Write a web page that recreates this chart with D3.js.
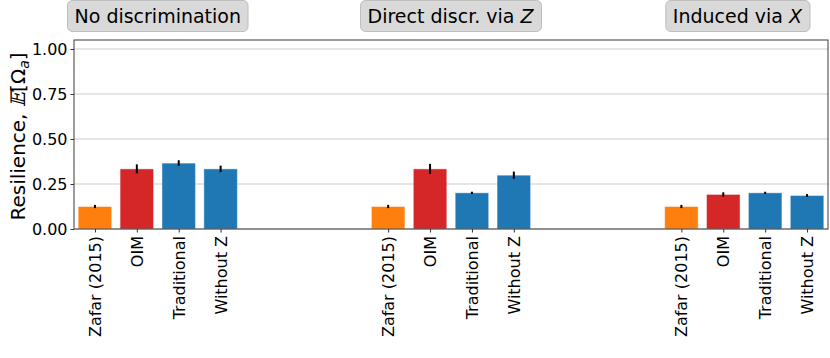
<!DOCTYPE html>
<html>
<head>
<meta charset="utf-8">
<script src="https://cdn.jsdelivr.net/npm/d3@7"></script>
<style>
  body { margin: 0; background: #fff; }
  svg { font-family: "DejaVu Sans", sans-serif; }
</style>
</head>
<body>
<div id="chart"></div>
<script>
const groups = ["No discrimination", "Direct discr. via Z", "Induced via X"];
const methods = ["Zafar (2015)", "OIM", "Traditional", "Without Z"];
const methodColors = ["#ff7f0e", "#d62728", "#1f77b4", "#1f77b4"];
const groupValues = [
  [0.125, 0.334, 0.366, 0.334],
  [0.125, 0.334, 0.201, 0.299],
  [0.125, 0.192, 0.201, 0.186]
];
const groupErrors = [
  [0.009, 0.025, 0.016, 0.018],
  [0.009, 0.028, 0.006, 0.020],
  [0.009, 0.012, 0.006, 0.008]
];
const yTicks = [0, 0.25, 0.5, 0.75, 1.0];

const W = 830, H = 358;
const margin = { top: 40, right: 2, bottom: 129, left: 74 };
const width = W - margin.left - margin.right;
const height = H - margin.top - margin.bottom;

const svg = d3.select("#chart").append("svg")
  .attr("width", W).attr("height", H);
const g = svg.append("g")
  .attr("transform", `translate(${margin.left},${margin.top})`);

const gap = 7;
const bars = [];
groups.forEach((grp, gi) => {
  methods.forEach((m, mi) => {
    bars.push({ group: gi, method: m, pos: gi * gap + mi,
      value: groupValues[gi][mi], err: groupErrors[gi][mi], color: methodColors[mi] });
  });
});

const x = d3.scaleLinear().domain([-0.5, 17.5]).range([0, width]);
const y = d3.scaleLinear().domain([0, 1.05]).range([height, 0]);
const unit = x(1) - x(0);

// grid
g.append("g")
  .selectAll("line")
  .data(yTicks)
  .join("line")
  .attr("x1", 0).attr("x2", width)
  .attr("y1", d => y(d)).attr("y2", d => y(d))
  .attr("stroke", "#dddddd")
  .attr("stroke-width", 1.5);

// bars
g.selectAll(".bar")
  .data(bars)
  .join("rect")
  .attr("class", "bar")
  .attr("x", d => x(d.pos - 0.4))
  .attr("width", unit * 0.8)
  .attr("y", d => y(d.value))
  .attr("height", d => y(0) - y(d.value))
  .attr("fill", d => d.color)
  .attr("stroke", "rgba(255,255,255,0.45)")
  .attr("stroke-width", 1);

// error bars
g.selectAll(".err")
  .data(bars)
  .join("line")
  .attr("class", "err")
  .attr("x1", d => x(d.pos)).attr("x2", d => x(d.pos))
  .attr("y1", d => y(d.value - d.err)).attr("y2", d => y(d.value + d.err))
  .attr("stroke", "#000")
  .attr("stroke-width", 2);

// axes
const yAxis = g.append("g")
  .call(d3.axisLeft(y).tickValues(yTicks).tickFormat(d3.format(".2f")).tickSize(3.5).tickPadding(3))
  .attr("font-size", 16)
  .attr("font-family", "DejaVu Sans");
yAxis.select(".domain").remove();
yAxis.selectAll("text").attr("fill", "#000");
yAxis.selectAll("line").attr("stroke", "#333");

const xAxis = g.append("g")
  .attr("transform", `translate(0,${height})`)
  .call(d3.axisBottom(x).tickValues(bars.map(d => d.pos))
    .tickFormat(p => bars.find(b => b.pos === p).method).tickSize(3.5).tickPadding(3))
  .attr("font-size", 16)
  .attr("font-family", "DejaVu Sans");
xAxis.select(".domain").remove();
xAxis.selectAll("line").attr("stroke", "#333");
xAxis.selectAll("text")
  .attr("fill", "#000")
  .attr("transform", "rotate(-90)")
  .attr("text-anchor", "end")
  .attr("x", -7)
  .attr("y", 0)
  .attr("dy", "0.35em");

// frame
g.append("rect")
  .attr("x", 0).attr("y", 0)
  .attr("width", width).attr("height", height)
  .attr("fill", "none")
  .attr("stroke", "#3a3a3a")
  .attr("stroke-width", 1);

// y label
g.append("text")
  .attr("transform", "rotate(-90)")
  .attr("x", -height / 2 - 2)
  .attr("y", -49)
  .attr("text-anchor", "middle")
  .attr("font-size", 20)
  .attr("fill", "#000")
  .html('Resilience, <tspan font-family="DejaVu Serif" font-style="italic">𝔼</tspan>[Ω<tspan font-style="italic" font-size="14" dy="4">a</tspan><tspan dy="-4">]</tspan>');

// group titles with boxes
const titleParts = [
  [{ t: "No discrimination", i: false }],
  [{ t: "Direct discr. via ", i: false }, { t: "Z", i: true }],
  [{ t: "Induced via ", i: false }, { t: "X", i: true }]
];
titleParts.forEach((parts, gi) => {
  let cx = x(gi * gap + 1.5) + margin.left;
  const tg = svg.append("g");
  const txt = tg.append("text")
    .attr("y", 23)
    .attr("font-size", 19)
    .attr("fill", "#000");
  parts.forEach(p => txt.append("tspan").attr("font-style", p.i ? "italic" : null).text(p.t));
  const bb = txt.node().getBBox();
  const padX = 7;
  const boxW = bb.width + padX * 2;
  if (cx + boxW / 2 > W - 20) cx = W - 20 - boxW / 2;
  txt.attr("x", cx - bb.width / 2);
  tg.insert("rect", "text")
    .attr("x", cx - boxW / 2)
    .attr("y", 0.5)
    .attr("width", boxW)
    .attr("height", 31)
    .attr("rx", 5)
    .attr("fill", "#d9d9d9")
    .attr("stroke", "#bdbdbd")
    .attr("stroke-width", 1);
});
</script>
</body>
</html>
